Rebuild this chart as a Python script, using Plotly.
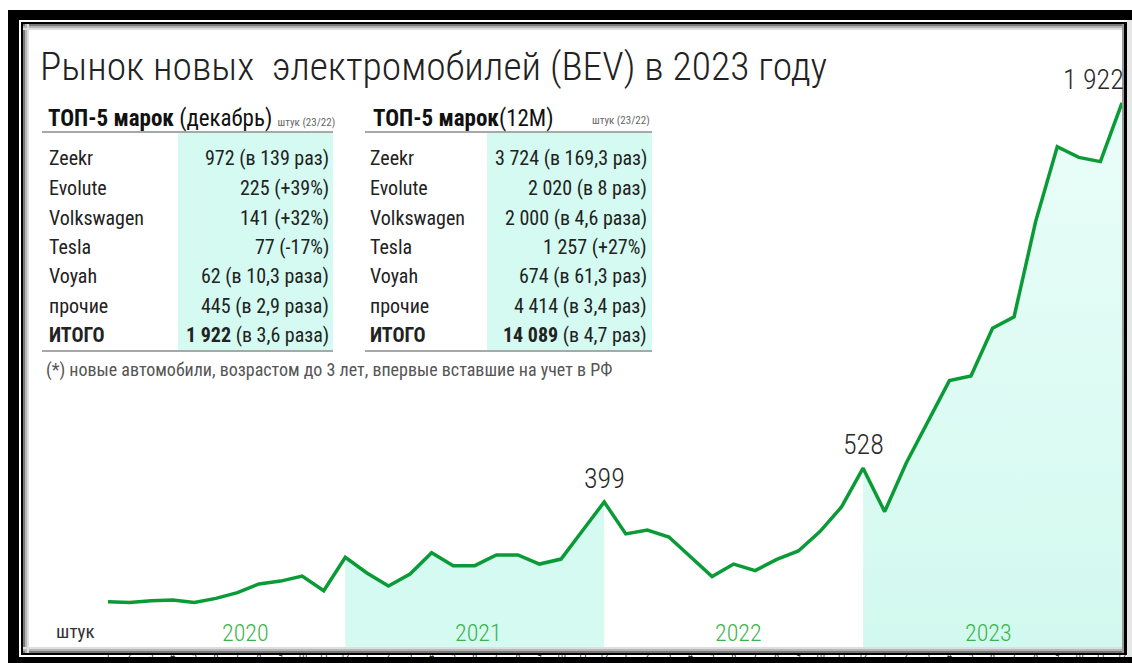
import plotly.graph_objects as go

# ---------------- data ----------------
years = ["2020", "2021", "2022", "2023"]
month_numbers = [str(m) for m in range(1, 13)]
sales_2020 = [18, 15, 22, 25, 15, 31, 53, 86, 97, 116, 60, 188]
sales_2021 = [128, 78, 124, 205, 156, 156, 197, 197, 162, 181, 290, 399]
sales_2022 = [277, 292, 265, 190, 114, 162, 137, 180, 212, 286, 380, 528]
sales_2023 = [362, 548, 705, 862, 880, 1062, 1106, 1470, 1755, 1714, 1698, 1922]

brands = ["Zeekr", "Evolute", "Volkswagen", "Tesla", "Voyah", "прочие", "ИТОГО"]
dec_values = ["972 (в 139 раз)", "225 (+39%)", "141 (+32%)", "77 (-17%)",
              "62 (в 10,3 раза)", "445 (в 2,9 раза)", "<b>1 922</b> (в 3,6 раза)"]
ytd_values = ["3 724 (в 169,3 раз)", "2 020 (в 8 раз)", "2 000 (в 4,6 раза)", "1 257 (+27%)",
              "674 (в 61,3 раз)", "4 414 (в 3,4 раз)", "<b>14 089</b> (в 4,7 раз)"]
peak_labels = {23: "399", 35: "528", 47: "1 922"}

title_text = "Рынок новых  электромобилей (BEV) в 2023 году"
footnote = "(*) новые автомобили, возрастом до 3 лет, впервые вставшие на учет в РФ"

# ---------------- helpers ----------------
W, H = 1132, 663
FONT = "Roboto Condensed, Liberation Sans Narrow, DejaVu Sans Condensed, Roboto, sans-serif"
GREEN = "#0a9b37"
CYAN = "#d4faf1"


def px(x):
    return x / W


def py(y):
    return 1 - y / H


values = sales_2020 + sales_2021 + sales_2022 + sales_2023
x_idx = list(range(len(values)))
ticktext = month_numbers * len(years)

# axis geometry (pixels)
X0_PX, X1_PX = 28, 1124
Y_TOP_PX, Y_BOT_PX = 28, 648
STEP = 21.574
FIRST_PX = 108
ZERO_PX, PX_PER_UNIT = 606.5, 0.262
x_range = [(X0_PX - FIRST_PX) / STEP, (X1_PX - FIRST_PX) / STEP]
y_range = [(ZERO_PX - Y_BOT_PX) / PX_PER_UNIT, (ZERO_PX - Y_TOP_PX) / PX_PER_UNIT]
base = y_range[0]

fig = go.Figure()

# shaded areas for 2021 and 2023
for start, end, grad in [(11, 23, False), (35, 47, True)]:
    xs = x_idx[start:end + 1] + [end, start]
    ys = values[start:end + 1] + [base, base]
    kw = dict(fillcolor=CYAN)
    if grad:
        kw = dict(fillgradient=dict(type="vertical",
                                    colorscale=[[0, "#d2f9ef"], [1, "#eafdf9"]]))
    fig.add_trace(go.Scatter(x=xs, y=ys, mode="lines", fill="toself",
                             line=dict(width=0), hoverinfo="skip",
                             showlegend=False, **kw))

fig.add_trace(go.Scatter(x=x_idx, y=values, mode="lines",
                         line=dict(color=GREEN, width=3.5),
                         cliponaxis=False, showlegend=False))

fig.update_xaxes(domain=[px(X0_PX), px(X1_PX)], range=x_range,
                 tickvals=x_idx, ticktext=ticktext, automargin=False,
                 tickfont=dict(size=10, color="#333", family=FONT),
                 ticklabelstandoff=0,
                 showgrid=False, zeroline=False, showline=False, ticks="")
fig.update_yaxes(domain=[py(Y_BOT_PX), py(Y_TOP_PX)], range=y_range,
                 visible=False, automargin=False)

ann = []
# peak labels
for i, txt in peak_labels.items():
    ann.append(dict(x=i, y=values[i], xref="x", yref="y", text=txt,
                    showarrow=False, yanchor="bottom", yshift=5,
                    xanchor="right" if i == 47 else "center",
                    xshift=4 if i == 47 else 0,
                    font=dict(family=FONT, size=28, color="#2a2a2a", weight=300)))

# year labels
for yr, xc in zip(years, [245, 478, 738, 988]):
    ann.append(dict(x=px(xc), y=py(633), xref="paper", yref="paper", text=yr,
                    showarrow=False, xanchor="center", yanchor="middle",
                    font=dict(family=FONT, size=24, color="#3cb44b", weight=300)))
ann.append(dict(x=px(54), y=py(631), xref="paper", yref="paper", text="штук",
                showarrow=False, xanchor="left", yanchor="middle",
                font=dict(family=FONT, size=19, color="#333")))

# title
ann.append(dict(x=px(38), y=py(67), xref="paper", yref="paper", text=title_text,
                showarrow=False, xanchor="left", yanchor="middle",
                font=dict(family=FONT, size=39.5, color="#222", weight=300)))

# tables
row_y = [158, 188, 218, 247, 276, 306, 335]
tables = [
    dict(x_name=47, x_val=331, x_l=42, x_r=333, cyan_l=178,
         header="<b>ТОП-5 марок</b> (декабрь) <span style='font-size:11px;color:#666'>штук (23/22)</span>",
         vals=dec_values, hdr_x=46, unit=None),
    dict(x_name=368, x_val=649, x_l=365, x_r=652, cyan_l=487,
         header="<b>ТОП-5 марок</b>(12M)", vals=ytd_values, hdr_x=371,
         unit="штук (23/22)"),
]
shapes = []
for t in tables:
    shapes.append(dict(type="rect", xref="paper", yref="paper", layer="below",
                       x0=px(t["cyan_l"]), x1=px(t["x_r"]), y0=py(350), y1=py(133),
                       fillcolor=CYAN, line=dict(width=0)))
    for yy in (132, 351):
        shapes.append(dict(type="line", xref="paper", yref="paper",
                           x0=px(t["x_l"]), x1=px(t["x_r"]), y0=py(yy), y1=py(yy),
                           line=dict(color="#a8a8a8", width=2)))
    ann.append(dict(x=px(t["hdr_x"]), y=py(118), xref="paper", yref="paper",
                    text=t["header"], showarrow=False, xanchor="left", yanchor="middle",
                    font=dict(family=FONT, size=23, color="#111")))
    if t["unit"]:
        ann.append(dict(x=px(t["x_r"]), y=py(120), xref="paper", yref="paper",
                        text=t["unit"], showarrow=False, xanchor="right", yanchor="middle",
                        font=dict(family=FONT, size=11, color="#666")))
    for name, val, yy in zip(brands, t["vals"], row_y):
        nm = f"<b>{name}</b>" if name == "ИТОГО" else name
        ann.append(dict(x=px(t["x_name"]), y=py(yy), xref="paper", yref="paper",
                        text=nm, showarrow=False, xanchor="left", yanchor="middle",
                        font=dict(family=FONT, size=20, color="#222")))
        ann.append(dict(x=px(t["x_val"]), y=py(yy), xref="paper", yref="paper",
                        text=val, showarrow=False, xanchor="right", yanchor="middle",
                        font=dict(family=FONT, size=20, color="#222")))

ann.append(dict(x=px(44), y=py(370), xref="paper", yref="paper", text=footnote,
                showarrow=False, xanchor="left", yanchor="middle",
                font=dict(family=FONT, size=18, color="#555")))


# frame (drawn above the plot layer)
def rect(x0, y0, x1, y1, color):
    return dict(type="rect", xref="paper", yref="paper", layer="above",
                x0=px(x0), x1=px(x1), y0=py(y1), y1=py(y0),
                fillcolor=color, line=dict(width=0))


shapes += [
    rect(8, 10, 19, 663, "#000"),      # left thick
    rect(8, 10, 1132, 20, "#000"),     # top thick
    rect(8, 657, 1132, 663, "#000"),   # bottom thick
    rect(1127, 20, 1132, 657, "#e6e6e6"),
    # inner thin black frame
    rect(21, 22, 23, 655, "#000"),
    rect(21, 22, 1127, 24, "#000"),
    rect(21, 653, 1127, 655, "#000"),
    rect(1124, 22, 1127, 655, "#000"),
]
# soft inner shadow (left, top, bottom only)
for k, col in enumerate(["#777", "#b5b5b5", "#dedede"]):
    a = 2 * k
    shapes += [
        rect(23 + a, 24, 25 + a, 653, col),
        rect(23, 24 + a, 1124, 26 + a, col),
        rect(23, 651 - a, 1124, 653 - a, col),
    ]
shapes.append(rect(1122, 24, 1124, 653, "#9a9a9a"))

fig.update_layout(width=W, height=H, margin=dict(l=0, r=0, t=0, b=0, pad=0),
                  paper_bgcolor="white", plot_bgcolor="rgba(0,0,0,0)",
                  annotations=ann, shapes=shapes, showlegend=False,
                  font=dict(family=FONT))

fig.write_html("out.html", config={"displayModeBar": False},
               post_script="document.body.style.margin='0';document.body.style.overflow='hidden';")
